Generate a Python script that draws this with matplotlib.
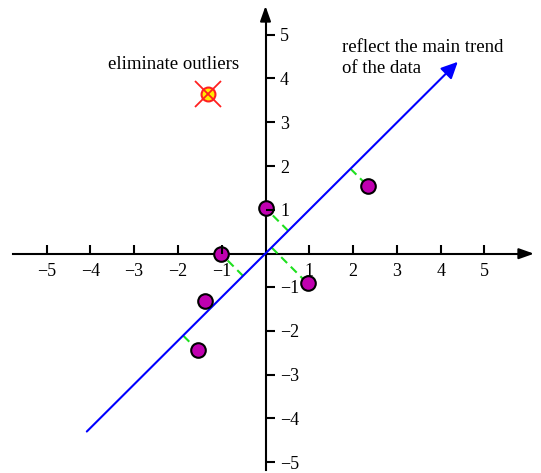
import matplotlib
matplotlib.use("Agg")
import matplotlib.pyplot as plt
import numpy as np

plt.rcParams["font.family"] = ["Liberation Serif", "DejaVu Serif"]

# data
pts_x = [0.0, -1.02, 0.96, -1.38, -1.55, 2.33]
pts_y = [1.04, 0.0, -0.68, -1.08, -2.2, 1.55]
outlier_x = [-1.32]
outlier_y = [3.65]
trend_x = [-4.08, 4.39]
trend_y = [-4.06, 4.38]

xtick_values = [-5, -4, -3, -2, -1, 1, 2, 3, 4, 5]
ytick_values = [-5, -4, -3, -2, -1, 1, 2, 3, 4, 5]
tick_labels = {v: ("\u2212%d" % -v if v < 0 else str(v)) for v in xtick_values}

fig = plt.figure(figsize=(5.41, 4.73), dpi=100)
ax = fig.add_axes([0, 0, 1, 1])
ax.set_xlim(-6.062, 6.290)
ax.set_ylim(-5.007, 5.792)

# axes through the origin
for side in ["left", "top"]:
    ax.spines[side].set_visible(False)
ax.spines["bottom"].set_position(("data", 0))
ax.spines["right"].set_position(("data", 0))
ax.spines["bottom"].set_bounds(-5.76, 6.0)
ax.spines["right"].set_bounds(-4.94, 5.4)
for side in ["bottom", "right"]:
    ax.spines[side].set_linewidth(1.5)
    ax.spines[side].set_zorder(1)
ax.xaxis.set_ticks_position("bottom")
ax.yaxis.set_ticks_position("right")
# tick marks sit on top of the points
ax.xaxis.set_zorder(3)
ax.yaxis.set_zorder(3)

ax.set_xticks(xtick_values)
ax.set_xticklabels([tick_labels[v] for v in xtick_values])
# the lower half of the reference's y scale sits a little higher than the upper half
ytick_pos = [v + 0.24 if v < 0 else v for v in ytick_values]
ax.set_yticks(ytick_pos)
ax.set_yticklabels([tick_labels[v] for v in ytick_values])
ax.tick_params(axis="x", direction="in", length=6.5, width=1.5, pad=6.5, labelsize=13)
ax.tick_params(axis="y", direction="out", length=6.5, width=1.5, pad=4, labelsize=13)

# arrow heads on the axes
head = "-|>,head_length=0.45,head_width=0.16"
ax.annotate("", xy=(6.13, 0), xytext=(5.8, 0),
            arrowprops=dict(arrowstyle=head, color="black", lw=1.5,
                            mutation_scale=20, shrinkA=0, shrinkB=0))
ax.annotate("", xy=(0, 5.655), xytext=(0, 5.3),
            arrowprops=dict(arrowstyle=head, color="black", lw=1.5,
                            mutation_scale=20, shrinkA=0, shrinkB=0))

# main trend line y = x
ax.annotate("", xy=(trend_x[1], trend_y[1]), xytext=(trend_x[0], trend_y[0]),
            arrowprops=dict(arrowstyle="-|>,head_length=0.5,head_width=0.24",
                            color="#0000ff", lw=1.5, mutation_scale=20,
                            shrinkA=0, shrinkB=0), zorder=2)

# projections onto the trend line
for x, y in zip(pts_x, pts_y):
    p = (x + y) / 2
    ax.plot([p, x], [p, y], color="#1ee01e", lw=1.5,
            linestyle=(0, (4, 2.5)), zorder=1.5)

ax.plot(pts_x, pts_y, "o", markersize=10.5, markerfacecolor="#c000b0",
        markeredgecolor="black", markeredgewidth=1.5, linestyle="none", zorder=2.4)

ax.plot(outlier_x, outlier_y, "o", markersize=10, markerfacecolor="#ffee00",
        markeredgecolor="#ff2020", markeredgewidth=1.5, linestyle="none", zorder=3)
ax.plot(outlier_x, outlier_y, "x", markersize=19, color="#ff2020",
        markeredgewidth=1.3, linestyle="none", zorder=3.1)

ax.text(-2.11, 4.33, "eliminate outliers", fontsize=13.5, ha="center", va="center")
ax.text(1.75, 4.46, "reflect the main trend\nof the data", fontsize=13.5,
        ha="left", va="center", linespacing=1.3)

fig.savefig("out.png", dpi=100)
